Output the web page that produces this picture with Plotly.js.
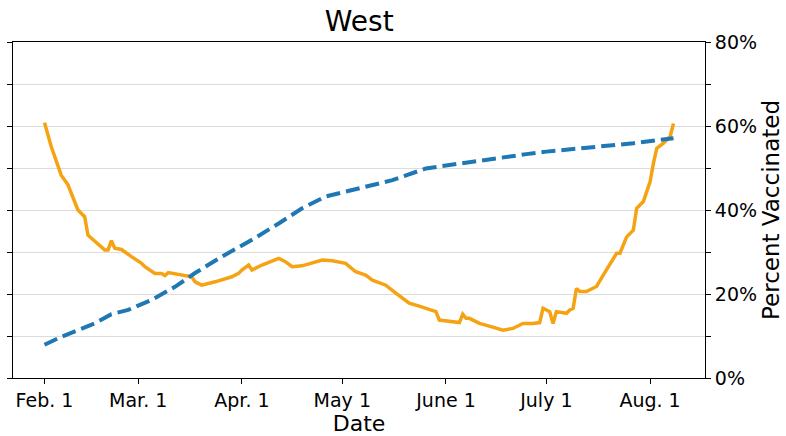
<!DOCTYPE html>
<html>
<head>
<meta charset="utf-8">
<script src="https://cdn.plot.ly/plotly-3.0.1.min.js"></script>
<style>html,body{margin:0;padding:0;background:#fff;}#chart{width:786px;height:436px;}</style>
</head>
<body>
<div id="chart"></div>
<script>
// Orange series (left axis, unlabeled)
const orangeDates = ['2021-02-01','2021-02-03','2021-02-06','2021-02-07','2021-02-08','2021-02-11','2021-02-13','2021-02-14','2021-02-16','2021-02-19','2021-02-20','2021-02-21','2021-02-22','2021-02-24','2021-02-27','2021-03-02','2021-03-03','2021-03-06','2021-03-08','2021-03-09','2021-03-10','2021-03-15','2021-03-17','2021-03-18','2021-03-20','2021-03-24','2021-03-27','2021-03-29','2021-03-31','2021-04-01','2021-04-03','2021-04-04','2021-04-07','2021-04-12','2021-04-14','2021-04-16','2021-04-19','2021-04-22','2021-04-25','2021-04-28','2021-05-02','2021-05-05','2021-05-08','2021-05-10','2021-05-14','2021-05-17','2021-05-21','2021-05-24','2021-05-26','2021-05-29','2021-05-30','2021-06-02','2021-06-05','2021-06-06','2021-06-07','2021-06-08','2021-06-11','2021-06-15','2021-06-18','2021-06-21','2021-06-24','2021-06-27','2021-06-29','2021-06-30','2021-07-02','2021-07-03','2021-07-04','2021-07-07','2021-07-08','2021-07-09','2021-07-10','2021-07-11','2021-07-13','2021-07-14','2021-07-16','2021-07-18','2021-07-20','2021-07-22','2021-07-23','2021-07-25','2021-07-27','2021-07-28','2021-07-30','2021-08-01','2021-08-02','2021-08-03','2021-08-05','2021-08-07','2021-08-08'];
const orangeValues = [60.8,55.1,48.3,47.1,46.0,40.0,38.4,34.0,32.5,30.5,30.5,32.7,30.9,30.6,28.9,27.3,26.5,24.9,24.9,24.4,25.1,24.5,24.1,22.9,22.1,22.9,23.7,24.1,24.9,25.7,26.9,25.7,26.9,28.5,27.7,26.5,26.7,27.3,28.1,27.9,27.3,25.3,24.5,23.3,22.1,20.2,17.8,17.1,16.6,15.8,13.8,13.4,13.2,15.2,14.2,14.2,13.0,12.1,11.4,11.8,13.0,13.0,13.2,16.6,15.8,13.0,15.8,15.4,16.2,16.6,21.3,20.6,20.6,21.0,21.8,24.5,27.3,29.7,29.7,33.6,35.2,40.4,42.0,46.7,51.1,54.7,55.9,57.5,60.6];

// Blue series: percent vaccinated (right axis)
const blueDates = ['2021-02-01','2021-02-06','2021-02-16','2021-02-18','2021-02-21','2021-02-26','2021-03-05','2021-03-12','2021-03-18','2021-03-26','2021-04-04','2021-04-12','2021-04-19','2021-04-26','2021-05-08','2021-05-16','2021-05-26','2021-06-05','2021-06-15','2021-06-25','2021-07-01','2021-07-08','2021-07-18','2021-07-27','2021-08-08'];
const blueValues = [7.9,9.8,13.0,13.9,15.2,16.2,18.6,21.7,25.0,28.9,32.9,36.8,40.4,43.2,45.6,47.1,49.9,51.1,52.3,53.3,53.9,54.4,55.1,55.9,57.1];

const xTickVals = ['2021-02-01','2021-03-01','2021-04-01','2021-05-01','2021-06-01','2021-07-01','2021-08-01'];
const xTickText = ['Feb. 1','Mar. 1','Apr. 1','May 1','June 1','July 1','Aug. 1'];
const yTickVals = [0,10,20,30,40,50,60,70,80];
const yTickTextRight = ['0%','','20%','','40%','','60%','','80%'];

const font = 'DejaVu Sans, sans-serif';

const traces = [
  {x: orangeDates, y: orangeValues, type: 'scatter', mode: 'lines', yaxis: 'y',
   line: {color: '#f5a312', width: 3.5}, hoverinfo: 'skip'},
  {x: blueDates, y: blueValues, type: 'scatter', mode: 'lines', yaxis: 'y2',
   line: {color: '#1f77b4', width: 4, dash: '14px,6px'}, hoverinfo: 'skip'}
];

const layout = {
  width: 786, height: 436,
  margin: {l: 13, r: 81, t: 42, b: 58},
  paper_bgcolor: '#fff', plot_bgcolor: '#fff',
  showlegend: false,
  font: {family: font, color: '#000'},
  title: {text: 'West', font: {family: font, size: 28, color: '#000'},
          x: 0.457, xanchor: 'center', yref: 'container', y: 0.952, yanchor: 'middle'},
  xaxis: {
    type: 'date', range: ['2021-01-22 14:00', '2021-08-17 10:00'],
    tickmode: 'array', tickvals: xTickVals, ticktext: xTickText,
    ticks: 'outside', ticklen: 5, tickwidth: 1, tickcolor: '#000',
    tickfont: {family: font, size: 19, color: '#000'},
    showline: true, linecolor: '#000', linewidth: 1, mirror: true,
    showgrid: false, zeroline: false,
    title: {text: 'Date', font: {family: font, size: 22, color: '#000'}, standoff: 4}
  },
  yaxis: {
    range: [0, 80], tickmode: 'array', tickvals: yTickVals, showticklabels: false,
    ticks: 'outside', ticklen: 5, tickwidth: 1, tickcolor: '#000',
    showline: true, linecolor: '#000', linewidth: 1,
    showgrid: true, gridcolor: '#dcdcdc', gridwidth: 1, zeroline: false
  },
  yaxis2: {
    overlaying: 'y', side: 'right',
    range: [0, 80], tickmode: 'array', tickvals: yTickVals, ticktext: yTickTextRight,
    ticks: 'outside', ticklen: 5, tickwidth: 1, tickcolor: '#000',
    tickfont: {family: font, size: 19, color: '#000'},
    showline: true, linecolor: '#000', linewidth: 1,
    showgrid: false, zeroline: false,
    title: {text: 'Percent Vaccinated', font: {family: font, size: 23, color: '#000'}, standoff: 6}
  }
};

Plotly.newPlot('chart', traces, layout, {displayModeBar: false, staticPlot: true});
</script>
</body>
</html>
